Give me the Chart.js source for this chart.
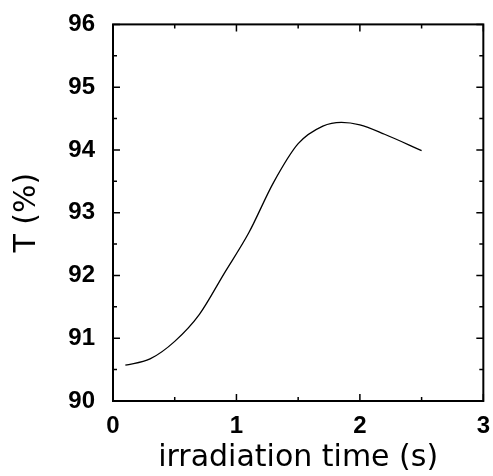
<!DOCTYPE html>
<html>
<head>
<meta charset="utf-8">
<script src="https://cdn.jsdelivr.net/npm/chart.js@4/dist/chart.umd.min.js"></script>
<style>
  html, body { margin: 0; padding: 0; background: #fff; }
  #wrap { width: 493px; height: 476px; }
</style>
</head>
<body>
<div id="wrap"><canvas id="chart"></canvas></div>
<script>
// values
const times = [0.1, 0.3, 0.5, 0.7, 0.9, 1.1, 1.3, 1.5, 1.7, 1.85, 2.0, 2.2, 2.5];
const transmittance = [90.57, 90.67, 90.95, 91.38, 92.03, 92.68, 93.48, 94.10, 94.38, 94.44, 94.40, 94.25, 93.99];
const xRange = [0, 3];
const yRange = [90, 96];

const points = times.map((t, i) => ({ x: t, y: transmittance[i] }));

// frame + inward ticks on all four sides
const frameTicks = {
    id: 'frameTicks',
    afterDraw(chart) {
        const { ctx, chartArea: a, scales } = chart;
        ctx.save();
        ctx.strokeStyle = '#000';
        ctx.lineWidth = 1.5;
        scales.x.ticks.forEach(t => {
            const px = scales.x.getPixelForValue(t.value);
            const len = Number.isInteger(t.value) ? 7 : 4;
            ctx.beginPath();
            ctx.moveTo(px, a.bottom); ctx.lineTo(px, a.bottom - len);
            ctx.moveTo(px, a.top); ctx.lineTo(px, a.top + len);
            ctx.stroke();
        });
        scales.y.ticks.forEach(t => {
            const py = scales.y.getPixelForValue(t.value);
            const len = Number.isInteger(t.value) ? 7 : 4;
            ctx.beginPath();
            ctx.moveTo(a.left, py); ctx.lineTo(a.left + len, py);
            ctx.moveTo(a.right, py); ctx.lineTo(a.right - len, py);
            ctx.stroke();
        });
        ctx.lineWidth = 2;
        ctx.strokeRect(a.left, a.top, a.right - a.left, a.bottom - a.top);
        ctx.restore();
    }
};

const tickFont = { family: '"Liberation Sans", Arial, sans-serif', size: 24, weight: 'bold' };
const titleFont = { family: '"DejaVu Sans", sans-serif', size: 30 };

new Chart(document.getElementById('chart'), {
    type: 'scatter',
    data: {
        datasets: [{
            data: points,
            showLine: true,
            borderColor: '#000',
            borderWidth: 1.3,
            pointRadius: 0,
            cubicInterpolationMode: 'monotone'
        }]
    },
    options: {
        responsive: true,
        maintainAspectRatio: false,
        animation: false,
        layout: { padding: { top: 24, right: 7, left: 0, bottom: 0 } },
        plugins: { legend: { display: false }, tooltip: { enabled: false } },
        scales: {
            x: {
                type: 'linear',
                min: xRange[0], max: xRange[1],
                grid: { display: false },
                border: { display: false },
                ticks: {
                    stepSize: 0.5,
                    color: '#000',
                    font: tickFont,
                    padding: 3,
                    maxRotation: 0,
                    autoSkip: false,
                    callback: v => Number.isInteger(v) ? v : ''
                },
                title: { display: true, text: 'irradiation time (s)', color: '#000', font: titleFont, padding: { top: 0, bottom: 0 } },
                afterFit: s => { s.height = 75; }
            },
            y: {
                min: yRange[0], max: yRange[1],
                grid: { display: false },
                border: { display: false },
                ticks: {
                    stepSize: 0.5,
                    color: '#000',
                    font: tickFont,
                    padding: 10,
                    autoSkip: false,
                    callback: v => Number.isInteger(v) ? v : ''
                },
                title: { display: true, text: 'T (%)', color: '#000', font: titleFont, padding: { top: 9, bottom: 0 } },
                afterFit: s => { s.width = 113; }
            }
        }
    },
    plugins: [frameTicks]
});
</script>
</body>
</html>
